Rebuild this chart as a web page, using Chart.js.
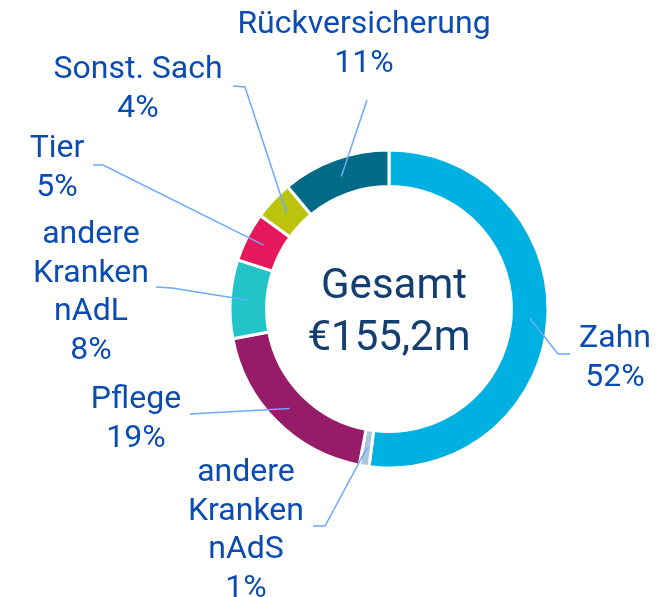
<!DOCTYPE html>
<html>
<head>
<meta charset="utf-8">
<script src="https://cdn.jsdelivr.net/npm/chart.js@4/dist/chart.umd.min.js"></script>
<style>
	html, body { margin: 0; padding: 0; background: #fff; }
	#wrap { width: 666px; height: 597px; position: relative; }
</style>
</head>
<body>
<div id="wrap"><canvas id="shareChart"></canvas></div>
<script>
// Sparten, im Uhrzeigersinn ab 12 Uhr
const categories = ['Zahn', 'andere Kranken nAdS', 'Pflege', 'andere Kranken nAdL', 'Tier', 'Sonst. Sach', 'Rückversicherung'];
const shares = [52, 1, 19, 8, 5, 4, 11];
const labelLines = [
	['Zahn'],
	['andere', 'Kranken', 'nAdS'],
	['Pflege'],
	['andere', 'Kranken', 'nAdL'],
	['Tier'],
	['Sonst. Sach'],
	['Rückversicherung']
];
const totalLabel = ['Gesamt', '€155,2m'];

(function() {
	'use strict';

	const sliceColors = ['#00b0e0', '#a9c7dc', '#961c6a', '#22c4c8', '#e4185b', '#bcc30d', '#006a87'];

	// Beschriftung: Textmitte x, erste Grundlinie y, Linienpunkte vom Text zur Mitte des Segments
	const labelLayout = [
		{ x: 615, y: 347, leader: [[570, 354], [558, 354]] },
		{ x: 246, y: 481, leader: [[313, 526], [325, 526]] },
		{ x: 136, y: 408, leader: [[190, 414]] },
		{ x: 91, y: 243, leader: [[156, 287], [172, 288]] },
		{ x: 57, y: 157, leader: [[93, 165], [103, 165]] },
		{ x: 138, y: 78, leader: [[233, 86], [245, 87]] },
		{ x: 364, y: 33, leader: [[367, 100]] }
	];

	const labelPlugin = {
		id: 'sliceLabels',
		afterDraw: function(chart) {
			const ctx = chart.ctx;
			const arcs = chart.getDatasetMeta(0).data;
			ctx.save();

			// leader lines
			ctx.strokeStyle = '#6ea8ff';
			ctx.lineWidth = 1.5;
			arcs.forEach(function(arc, i) {
				const pt = arc.getCenterPoint();
				const pts = labelLayout[i].leader;
				ctx.beginPath();
				ctx.moveTo(pts[0][0], pts[0][1]);
				for (let k = 1; k < pts.length; k++) {
					ctx.lineTo(pts[k][0], pts[k][1]);
				}
				ctx.lineTo(pt.x, pt.y);
				ctx.stroke();
			});

			// label text
			ctx.fillStyle = '#0a4cb2';
			ctx.font = '32px Roboto';
			ctx.textAlign = 'center';
			ctx.textBaseline = 'alphabetic';
			labelLines.forEach(function(lines, i) {
				const pos = labelLayout[i];
				const rows = lines.concat([shares[i] + '%']);
				rows.forEach(function(txt, r) {
					ctx.fillText(txt, pos.x, pos.y + r * 38.5);
				});
			});

			// center total
			const c = arcs[0];
			ctx.fillStyle = '#123f70';
			ctx.font = '42px Roboto';
			ctx.fillText(totalLabel[0], c.x + 5, c.y - 11);
			ctx.fillText(totalLabel[1], c.x, c.y + 41);
			ctx.restore();
		}
	};

	const ctx = document.getElementById('shareChart').getContext('2d');
	new Chart(ctx, {
		type: 'doughnut',
		data: {
			labels: categories,
			datasets: [{
				data: shares,
				backgroundColor: sliceColors,
				borderColor: '#fff',
				borderWidth: 3,
				hoverOffset: 0
			}]
		},
		options: {
			responsive: true,
			maintainAspectRatio: false,
			animation: false,
			events: [],
			radius: 159,
			cutout: 120.5,
			layout: {
				padding: { left: 231, right: 119, top: 151, bottom: 130 }
			},
			plugins: {
				legend: { display: false },
				tooltip: { enabled: false }
			}
		},
		plugins: [labelPlugin]
	});
})();
</script>
</body>
</html>
